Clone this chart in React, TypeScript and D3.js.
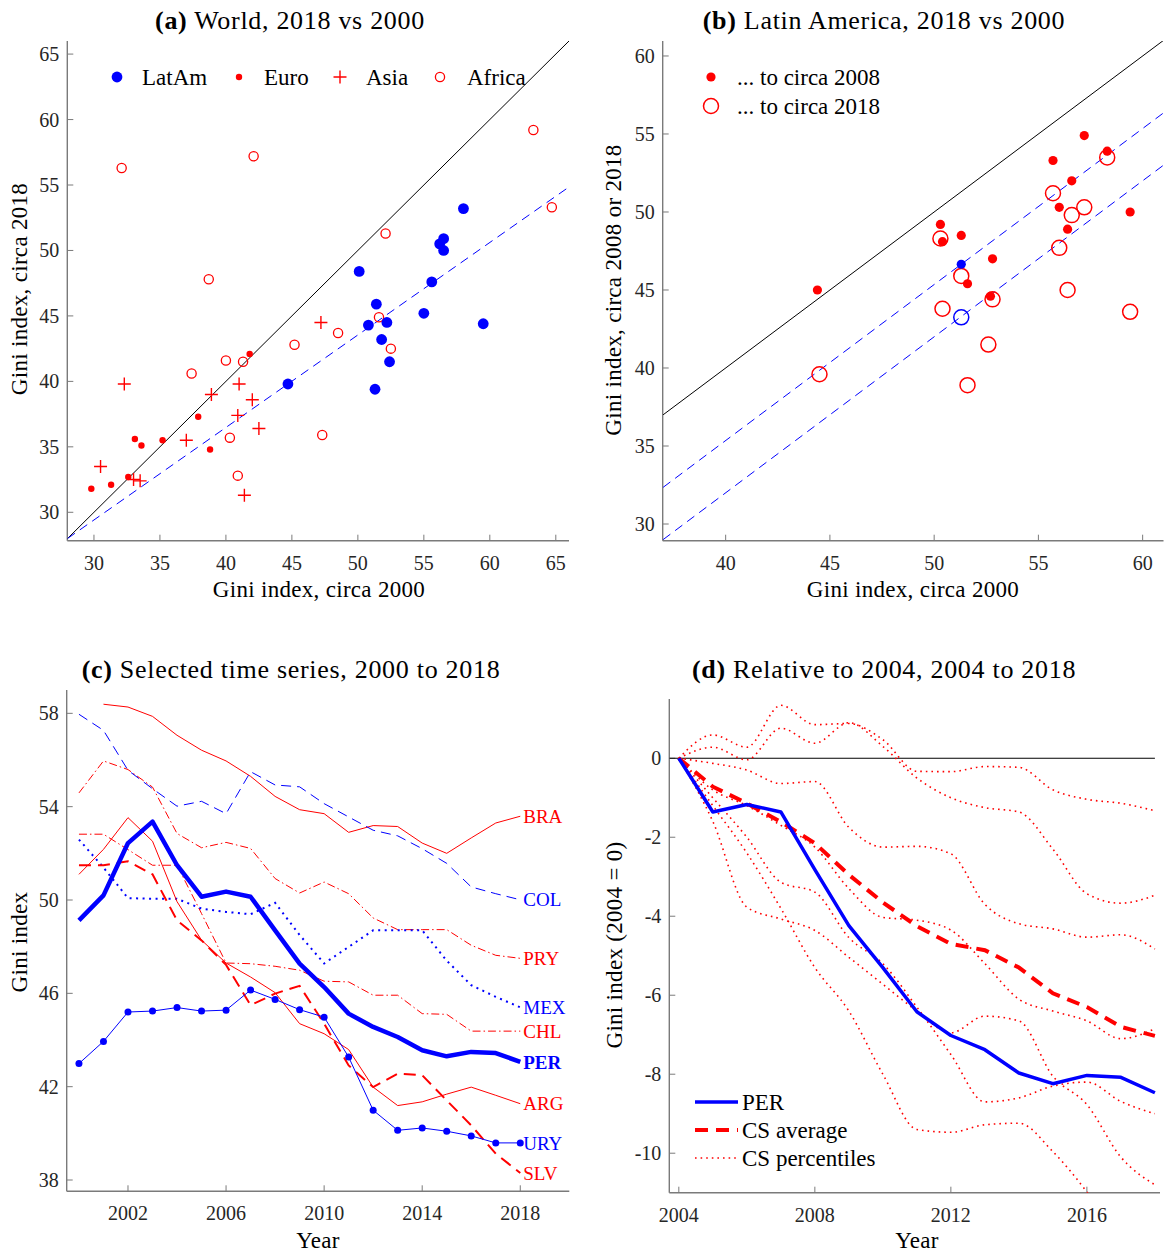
import React from 'react';
import * as d3 from 'd3';

const FONT = '"Liberation Serif", "Times New Roman", serif';
const RED = '#ff0000';
const BLUE = '#0000ff';
const AX = '#7a7a7a';
const TICKC = '#262626';

// ---------- Panel (a) data ----------
const latamX = [58.0, 56.5, 56.2, 56.5, 50.1, 55.6, 51.4, 55.0, 50.8, 52.2, 59.5, 51.8, 52.4, 44.7, 51.3];
const latamY = [53.2, 50.9, 50.5, 50.0, 48.4, 47.6, 45.9, 45.2, 44.3, 44.5, 44.4, 43.2, 41.5, 39.8, 39.4];
const euroX = [41.8, 37.9, 33.1, 33.6, 35.2, 38.8, 32.6, 29.8, 31.3];
const euroY = [42.1, 37.3, 35.6, 35.1, 35.5, 34.8, 32.7, 31.8, 32.1];
const asiaX = [32.3, 30.5, 33.0, 33.5, 37.0, 38.9, 41.0, 40.9, 42.0, 42.5, 41.4, 47.2];
const asiaY = [39.8, 33.5, 32.5, 32.4, 35.5, 39.0, 39.8, 37.4, 38.6, 36.4, 31.3, 44.5];
const africaX = [32.1, 42.1, 38.7, 52.1, 63.3, 64.7, 51.6, 48.5, 45.2, 52.5, 40.0, 41.3, 37.4, 40.3, 47.3, 40.9];
const africaY = [56.3, 57.2, 47.8, 51.3, 59.2, 53.3, 44.9, 43.7, 42.8, 42.5, 41.6, 41.5, 40.6, 35.7, 35.9, 32.8];
const diagA = [28, 66];
const fitAX = [28, 66];
const fitAY = [28, 54.85];
const ticksA = [30, 35, 40, 45, 50, 55, 60, 65];
const legendA = ['LatAm', 'Euro', 'Asia', 'Africa'];

// ---------- Panel (b) data ----------
const b2008X = [44.4, 50.3, 50.4, 51.3, 51.6, 52.8, 52.7, 55.7, 57.2, 58.3, 56.6, 56.0, 56.4, 59.4];
const b2008Y = [45.0, 49.2, 48.1, 48.5, 45.4, 47.0, 44.6, 53.3, 54.9, 53.9, 52.0, 50.3, 48.9, 50.0];
const b2018X = [50.3, 51.3, 50.4, 52.8, 55.7, 56.0, 56.6, 57.2, 58.3, 56.4, 59.4, 44.5, 52.6, 51.6];
const b2018Y = [48.3, 45.9, 43.8, 44.4, 51.2, 47.7, 49.8, 50.3, 53.5, 45.0, 43.6, 39.6, 41.5, 38.9];
const perBX = [51.3];
const perB2008 = [46.65];
const perB2018 = [43.25];
const diagB = [37, 61];
const fitB1X = [37, 61];
const fitB1Y = [32.35, 56.35];
const fitB2X = [37, 61];
const fitB2Y = [29.0, 53.0];
const ticksBX = [40, 45, 50, 55, 60];
const ticksBY = [30, 35, 40, 45, 50, 55, 60];
const legendB = ['... to circa 2008', '... to circa 2018'];

// ---------- Panel (c) data ----------
const yearsC = [2000, 2001, 2002, 2003, 2004, 2005, 2006, 2007, 2008, 2009, 2010, 2011, 2012, 2013, 2014, 2015, 2016, 2017, 2018];
const BRA = [NaN, 58.39, 58.27, 57.87, 57.06, 56.42, 55.96, 55.3, 54.44, 53.87, 53.7, 52.9, 53.19, 53.15, 52.44, 52.0, 52.66, 53.3, 53.59];
const COL = [57.96, 57.27, 55.56, 54.77, 54.02, 54.23, 53.7, 55.5, 54.93, 54.85, 54.13, 53.56, 52.99, 52.75, 52.2, 51.57, 50.56, 50.27, 50.01];
const PRY = [54.59, 55.96, 55.59, 54.84, 52.85, 52.24, 52.47, 52.21, 50.92, 50.3, 50.77, 50.27, 49.23, 48.73, 48.73, 48.73, 48.06, 47.63, 47.5];
const MEX = [52.59, 51.39, 50.08, 50.05, 50.05, 49.63, 49.49, 49.39, 49.88, 48.5, 47.28, 47.99, 48.7, 48.7, 48.7, 47.4, 46.35, 45.85, 45.4];
const CHL = [52.82, 52.82, 52.16, 51.49, 51.49, 49.42, 47.3, 47.27, 47.16, 46.99, 46.52, 46.49, 45.92, 45.92, 45.13, 45.1, 44.38, 44.38, 44.38];
const PER = [49.13, 50.2, 52.44, 53.36, 51.49, 50.14, 50.36, 50.14, 48.7, 47.27, 46.27, 45.13, 44.56, 44.13, 43.56, 43.3, 43.49, 43.44, 43.06];
const ARG = [51.1, 52.17, 53.53, 52.52, 49.93, 48.28, 47.3, 46.7, 46.03, 44.7, 44.27, 43.59, 41.98, 41.19, 41.35, 41.68, 41.98, 41.63, 41.27];
const URY = [42.99, 43.94, 45.2, 45.24, 45.39, 45.24, 45.28, 46.14, 45.74, 45.3, 44.98, 43.27, 40.99, 40.13, 40.23, 40.09, 39.89, 39.59, 39.59];
const SLV = [51.49, 51.49, 51.66, 51.1, 49.13, 48.27, 47.22, 45.49, 45.99, 46.32, 44.7, 42.91, 41.98, 42.56, 42.49, 41.41, 40.34, 39.13, 38.3];
const ticksCX = [2002, 2006, 2010, 2014, 2018];
const ticksCY = [38, 42, 46, 50, 54, 58];

// ---------- Panel (d) data ----------
const yearsD = [2004, 2005, 2006, 2007, 2008, 2009, 2010, 2011, 2012, 2013, 2014, 2015, 2016, 2017, 2018];
const perRel = [0, -1.36, -1.17, -1.36, -2.82, -4.24, -5.3, -6.42, -7.02, -7.38, -7.97, -8.24, -8.03, -8.08, -8.47];
const csAvg = [0, -0.72, -1.14, -1.61, -2.15, -2.95, -3.65, -4.25, -4.7, -4.86, -5.3, -5.95, -6.3, -6.8, -7.03];
const pctA = [0, 0.59, 0.28, 1.34, 0.85, 0.88, 0.47, -0.33, -0.34, -0.21, -0.23, -0.8, -1.04, -1.14, -1.33];
const pctB = [0, 0.28, -0.04, 0.76, 0.38, 0.9, 0.3, -0.5, -1.0, -1.25, -1.36, -2.3, -3.43, -3.67, -3.47];
const pctC = [0, -0.13, -0.3, -0.64, -0.59, -1.75, -2.25, -2.23, -2.42, -3.7, -4.19, -4.32, -4.53, -4.47, -4.83];
const pctD = [0, -0.8, -1.2, -1.7, -2.25, -3.3, -4.03, -4.1, -4.35, -5.2, -6.1, -6.4, -6.65, -7.1, -6.85];
const pctE = [0, -1.0, -2.0, -3.14, -3.39, -4.54, -5.2, -6.3, -7.5, -8.7, -8.6, -8.3, -8.2, -8.69, -9.0];
const pctF = [0, -1.6, -3.77, -4.07, -4.36, -5.04, -5.72, -6.4, -6.95, -6.53, -6.65, -8.05, -8.77, -10.1, -10.8];
const pctG = [0, -1.2, -2.4, -3.8, -5.3, -6.4, -8.0, -9.4, -9.47, -9.28, -9.24, -9.96, -10.98, -12.2, -13.2];
const ticksDX = [2004, 2008, 2012, 2016];
const ticksDY = [-10, -8, -6, -4, -2, 0];
const legendD = ['PER', 'CS average', 'CS percentiles'];

// ---------- scales ----------
const xA = d3.scaleLinear().domain([27.98, 66]).range([67.3, 569]);
const yA = d3.scaleLinear().domain([27.83, 66]).range([540.7, 41]);
const xB = d3.scaleLinear().domain([36.98, 61]).range([662.7, 1163.5]);
const yB = d3.scaleLinear().domain([28.93, 60.96]).range([540.7, 41]);
const xC = d3.scaleLinear().domain([1999.5, 2020]).range([66.7, 569.3]);
const yC = d3.scaleLinear().domain([37.516, 59]).range([1191.3, 690]);
const xD = d3.scaleLinear().domain([2003.72, 2018.15]).range([669.3, 1160]);
const yD = d3.scaleLinear().domain([-11, 1.5]).range([1192.7, 699]);

type Sc = d3.ScaleLinear<number, number>;

function Axes({ x, y, xt, yt, clipId }: { x: Sc; y: Sc; xt: number[]; yt: number[]; clipId: string }) {
  const [x0, x1] = x.range();
  const [y0, y1] = y.range();
  return (
    <g>
      <defs>
        <clipPath id={clipId}>
          <rect x={x0} y={y1} width={x1 - x0} height={y0 - y1} />
        </clipPath>
      </defs>
      <line x1={x0} x2={x1} y1={y0} y2={y0} stroke={AX} strokeWidth={1.4} />
      <line x1={x0} x2={x0} y1={y0} y2={y1} stroke={AX} strokeWidth={1.4} />
      {xt.map((t) => (
        <g key={'x' + t}>
          <line x1={x(t)} x2={x(t)} y1={y0} y2={y0 - 6} stroke={AX} strokeWidth={1} />
          <text x={x(t)} y={y0 + 29} textAnchor="middle" fontSize={20} fill={TICKC}>
            {String(t)}
          </text>
        </g>
      ))}
      {yt.map((t) => (
        <g key={'y' + t}>
          <line x1={x0} x2={x0 + 6} y1={y(t)} y2={y(t)} stroke={AX} strokeWidth={1} />
          <text x={x0 - 8} y={y(t)} dy="0.35em" textAnchor="end" fontSize={20} fill={TICKC}>
            {String(t)}
          </text>
        </g>
      ))}
    </g>
  );
}

function Title({ cx, y, tag, text }: { cx: number; y: number; tag: string; text: string }) {
  return (
    <text x={cx} y={y} textAnchor="middle" fontSize={26} letterSpacing={0.7} fill="#000">
      <tspan fontWeight="bold">{tag}</tspan>
      <tspan>{' ' + text}</tspan>
    </text>
  );
}

function YLabel({ x, y, text }: { x: number; y: number; text: string }) {
  return (
    <text transform={`translate(${x},${y}) rotate(-90)`} textAnchor="middle" fontSize={23} letterSpacing={0.3} fill="#000">
      {text}
    </text>
  );
}

function plus(cx: number, cy: number, s: number) {
  return `M${cx - s},${cy}H${cx + s}M${cx},${cy - s}V${cy + s}`;
}

function seriesPath(xs: number[], ys: number[], x: Sc, y: Sc, curve?: d3.CurveFactory) {
  const pts = xs.map((v, i) => [v, ys[i]] as [number, number]);
  const gen = d3
    .line<[number, number]>()
    .defined((d) => !isNaN(d[1]))
    .x((d) => x(d[0]))
    .y((d) => y(d[1]));
  if (curve) gen.curve(curve);
  return gen(pts) || '';
}

export default function App() {
  const lastC = yearsC.length - 1;
  const labelsC = [
    { name: 'BRA', data: BRA, color: RED, bold: false },
    { name: 'COL', data: COL, color: BLUE, bold: false },
    { name: 'PRY', data: PRY, color: RED, bold: false },
    { name: 'MEX', data: MEX, color: BLUE, bold: false },
    { name: 'CHL', data: CHL, color: RED, bold: false },
    { name: 'PER', data: PER, color: BLUE, bold: true },
    { name: 'ARG', data: ARG, color: RED, bold: false },
    { name: 'URY', data: URY, color: BLUE, bold: false },
    { name: 'SLV', data: SLV, color: RED, bold: false },
  ];
  const pcts = [pctA, pctB, pctC, pctD, pctE, pctF, pctG];

  return (
    <svg
      width={1167}
      height={1254}
      style={{ position: 'absolute', left: 0, top: 0, display: 'block', background: '#fff' }}
      fontFamily={FONT}
    >
      <rect x={0} y={0} width={1167} height={1254} fill="#fff" />

      {/* ================= Panel (a) ================= */}
      <Title cx={290} y={29} tag="(a)" text="World, 2018 vs 2000" />
      <Axes x={xA} y={yA} xt={ticksA} yt={ticksA} clipId="clipA" />
      <text x={319} y={597} textAnchor="middle" fontSize={23} letterSpacing={0.3}>Gini index, circa 2000</text>
      <YLabel x={27} y={289} text="Gini index, circa 2018" />
      <g clipPath="url(#clipA)">
        <line x1={xA(diagA[0])} y1={yA(diagA[0])} x2={xA(diagA[1])} y2={yA(diagA[1])} stroke="#000" strokeWidth={1} />
        <line x1={xA(fitAX[0])} y1={yA(fitAY[0])} x2={xA(fitAX[1])} y2={yA(fitAY[1])} stroke={BLUE} strokeWidth={1} strokeDasharray="9,6" />
        {africaX.map((v, i) => (
          <circle key={'af' + i} cx={xA(v)} cy={yA(africaY[i])} r={4.6} fill="none" stroke={RED} strokeWidth={1.3} />
        ))}
        {asiaX.map((v, i) => (
          <path key={'as' + i} d={plus(xA(v), yA(asiaY[i]), 6.5)} stroke={RED} strokeWidth={1.4} fill="none" />
        ))}
        {euroX.map((v, i) => (
          <circle key={'eu' + i} cx={xA(v)} cy={yA(euroY[i])} r={3.2} fill={RED} />
        ))}
        {latamX.map((v, i) => (
          <circle key={'la' + i} cx={xA(v)} cy={yA(latamY[i])} r={5.4} fill={BLUE} />
        ))}
      </g>
      {/* legend (a) */}
      <circle cx={117} cy={77} r={5.4} fill={BLUE} />
      <circle cx={239} cy={77} r={3.2} fill={RED} />
      <path d={plus(340, 77, 6.5)} stroke={RED} strokeWidth={1.4} />
      <circle cx={440} cy={77} r={4.6} fill="none" stroke={RED} strokeWidth={1.3} />
      {legendA.map((t, i) => (
        <text key={t} x={[142, 264, 366, 467][i]} y={85} fontSize={23}>{t}</text>
      ))}

      {/* ================= Panel (b) ================= */}
      <Title cx={884} y={29} tag="(b)" text="Latin America, 2018 vs 2000" />
      <Axes x={xB} y={yB} xt={ticksBX} yt={ticksBY} clipId="clipB" />
      <text x={913} y={597} textAnchor="middle" fontSize={23} letterSpacing={0.3}>Gini index, circa 2000</text>
      <YLabel x={621} y={290} text="Gini index, circa 2008 or 2018" />
      <g clipPath="url(#clipB)">
        <line x1={xB(diagB[0])} y1={yB(diagB[0])} x2={xB(diagB[1])} y2={yB(diagB[1])} stroke="#000" strokeWidth={1} />
        <line x1={xB(fitB1X[0])} y1={yB(fitB1Y[0])} x2={xB(fitB1X[1])} y2={yB(fitB1Y[1])} stroke={BLUE} strokeWidth={1} strokeDasharray="9,6" />
        <line x1={xB(fitB2X[0])} y1={yB(fitB2Y[0])} x2={xB(fitB2X[1])} y2={yB(fitB2Y[1])} stroke={BLUE} strokeWidth={1} strokeDasharray="9,6" />
        {b2008X.map((v, i) => (
          <circle key={'b8' + i} cx={xB(v)} cy={yB(b2008Y[i])} r={4.6} fill={RED} />
        ))}
        {b2018X.map((v, i) => (
          <circle key={'b18' + i} cx={xB(v)} cy={yB(b2018Y[i])} r={7.5} fill="none" stroke={RED} strokeWidth={1.5} />
        ))}
        {perBX.map((v, i) => (
          <g key={'pb' + i}>
            <circle cx={xB(v)} cy={yB(perB2008[i])} r={4.6} fill={BLUE} />
            <circle cx={xB(v)} cy={yB(perB2018[i])} r={7.5} fill="none" stroke={BLUE} strokeWidth={1.5} />
          </g>
        ))}
      </g>
      <circle cx={711} cy={77} r={4.6} fill={RED} />
      <circle cx={711} cy={106} r={7.5} fill="none" stroke={RED} strokeWidth={1.5} />
      <text x={737} y={85} fontSize={23}>{legendB[0]}</text>
      <text x={737} y={114} fontSize={23}>{legendB[1]}</text>

      {/* ================= Panel (c) ================= */}
      <Title cx={291} y={678} tag="(c)" text="Selected time series, 2000 to 2018" />
      <Axes x={xC} y={yC} xt={ticksCX} yt={ticksCY} clipId="clipC" />
      <text x={318} y={1248} textAnchor="middle" fontSize={23} letterSpacing={0.3}>Year</text>
      <YLabel x={27} y={942} text="Gini index" />
      <g clipPath="url(#clipC)" fill="none">
        <path d={seriesPath(yearsC, BRA, xC, yC)} stroke={RED} strokeWidth={1} />
        <path d={seriesPath(yearsC, COL, xC, yC)} stroke={BLUE} strokeWidth={1} strokeDasharray="10,6" />
        <path d={seriesPath(yearsC, PRY, xC, yC)} stroke={RED} strokeWidth={1} strokeDasharray="8,3,1.5,3" />
        <path d={seriesPath(yearsC, CHL, xC, yC)} stroke={RED} strokeWidth={1} strokeDasharray="8,3,1.5,3" />
        <path d={seriesPath(yearsC, MEX, xC, yC)} stroke={BLUE} strokeWidth={2} strokeDasharray="2,4.5" />
        <path d={seriesPath(yearsC, ARG, xC, yC)} stroke={RED} strokeWidth={1} />
        <path d={seriesPath(yearsC, SLV, xC, yC)} stroke={RED} strokeWidth={2} strokeDasharray="12,7" />
        <path d={seriesPath(yearsC, URY, xC, yC)} stroke={BLUE} strokeWidth={1} />
        {yearsC.map((yr, i) => (
          <circle key={'u' + yr} cx={xC(yr)} cy={yC(URY[i])} r={3.5} fill={BLUE} />
        ))}
        <path d={seriesPath(yearsC, PER, xC, yC)} stroke={BLUE} strokeWidth={4.5} strokeLinejoin="round" />
      </g>
      {labelsC.map((l) => (
        <text
          key={l.name}
          x={xC(yearsC[lastC]) + 3}
          y={yC(l.data[lastC])}
          dy="0.35em"
          fontSize={19}
          fill={l.color}
          fontWeight={l.bold ? 'bold' : 'normal'}
        >
          {l.name}
        </text>
      ))}

      {/* ================= Panel (d) ================= */}
      <Title cx={884} y={678} tag="(d)" text="Relative to 2004, 2004 to 2018" />
      <Axes x={xD} y={yD} xt={ticksDX} yt={ticksDY} clipId="clipD" />
      <text x={917} y={1248} textAnchor="middle" fontSize={23} letterSpacing={0.3}>Year</text>
      <YLabel x={622} y={945} text="Gini index (2004 = 0)" />
      <g clipPath="url(#clipD)" fill="none">
        <line x1={xD.range()[0]} x2={xD(2018)} y1={yD(0)} y2={yD(0)} stroke="#000" strokeWidth={1.2} />
        {pcts.map((p, k) => (
          <path key={'p' + k} d={seriesPath(yearsD, p, xD, yD, d3.curveMonotoneX)} stroke={RED} strokeWidth={1.6} strokeDasharray="1.6,4" />
        ))}
        <path d={seriesPath(yearsD, csAvg, xD, yD)} stroke={RED} strokeWidth={4} strokeDasharray="13,8" />
        <path d={seriesPath(yearsD, perRel, xD, yD)} stroke={BLUE} strokeWidth={3.5} strokeLinejoin="round" />
      </g>
      {/* legend (d) */}
      <line x1={695} x2={738} y1={1102} y2={1102} stroke={BLUE} strokeWidth={3.5} />
      <line x1={695} x2={738} y1={1130} y2={1130} stroke={RED} strokeWidth={4} strokeDasharray="13,8" />
      <line x1={695} x2={738} y1={1158} y2={1158} stroke={RED} strokeWidth={1.6} strokeDasharray="1.6,4" />
      {legendD.map((t, i) => (
        <text key={t} x={742} y={1102 + i * 28 + 8} fontSize={23}>{t}</text>
      ))}
    </svg>
  );
}
